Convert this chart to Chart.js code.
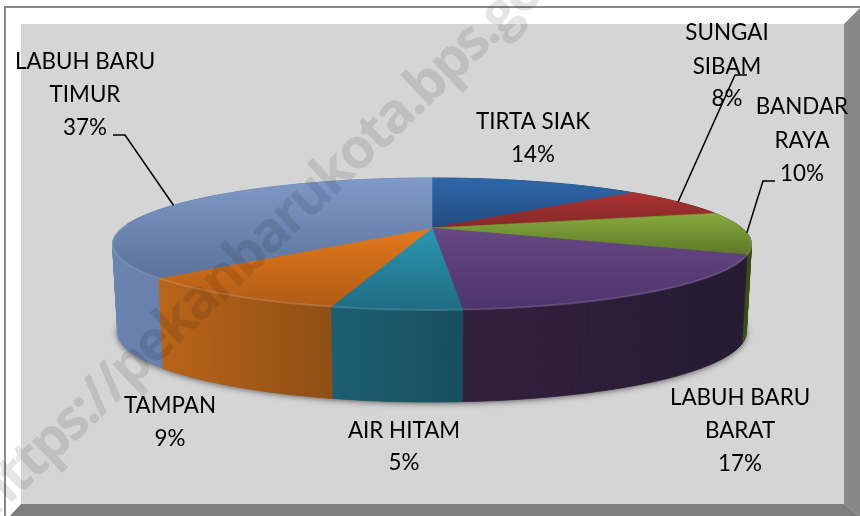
<!DOCTYPE html>
<html>
<head>
<meta charset="utf-8">
<style>
  html, body { margin: 0; padding: 0; background: #fff; }
  canvas { display: block; }
</style>
<script src="https://cdn.jsdelivr.net/npm/chart.js@4"></script>
</head>
<body>
<canvas id="pie-chart" width="860" height="516"></canvas>
<script>
// Data (slice sizes estimated, labels show them rounded)
const categories = ['TIRTA SIAK', 'SUNGAI SIBAM', 'BANDAR RAYA', 'LABUH BARU BARAT', 'AIR HITAM', 'TAMPAN', 'LABUH BARU TIMUR'];
const percentages = [13.5, 7.5, 10.4, 17.4, 5.2, 9.2, 36.8];

// top face gradient (back, front), side gradient (left, right)
const topColors = [
  ['#2f67aa', '#234c80'], ['#ab3332', '#842827'], ['#87ab3d', '#5d7829'], ['#674785', '#4e346d'],
  ['#2c97b2', '#1e6c82'], ['#e2781c', '#b05c16'], ['#7f9ac8', '#5c729a']
];
const sideColors = [
  ['#1d3c62', '#1d3c62'], ['#662020', '#662020'], ['#45591e', '#3a4a18'], ['#33203f', '#251a32'],
  ['#1c5f71', '#174f5e'], ['#ba651a', '#8f4f14'], ['#6a84b0', '#5b7299']
];

// label layout: line centres, and optional leader elbow
const labelLayout = [
  { x: 533, lines: [['TIRTA SIAK', 122], ['14%', 155]] },
  { x: 727, lines: [['SUNGAI', 33], ['SIBAM', 67], ['8%', 99]], leader: [[747, 75], [735, 75]] },
  { x: 802, lines: [['BANDAR', 107], ['RAYA', 141], ['10%', 174]], leader: [[775, 181], [763, 181]] },
  { x: 740, lines: [['LABUH BARU', 398], ['BARAT', 431], ['17%', 464]] },
  { x: 404, lines: [['AIR HITAM', 431], ['5%', 463]] },
  { x: 170, lines: [['TAMPAN', 406], ['9%', 439]] },
  { x: 85, lines: [['LABUH BARU', 62], ['TIMUR', 95], ['37%', 128]], leader: [[113, 135], [125, 135]] }
];

// perspective of the pie disc
const persp = 0.242;
const topDisc = { cx: 432, cy: 228, a: 310, b: 62.1 };
const baseDisc = { cx: 432, cy: 315, a: 305, b: 66 };

function project(disc, theta) {
  const u = Math.sin(theta), v = -Math.cos(theta);
  const w = 1 - persp * v;
  return [disc.cx + disc.a * u / w, disc.cy + disc.b * v / w];
}

function arcPoints(disc, from, to) {
  const pts = [];
  const n = Math.max(2, Math.ceil((to - from) / 0.02));
  for (let i = 0; i <= n; i++) pts.push(project(disc, from + (to - from) * i / n));
  return pts;
}

function tracePath(ctx, pts) {
  ctx.beginPath();
  pts.forEach((p, i) => i ? ctx.lineTo(p[0], p[1]) : ctx.moveTo(p[0], p[1]));
  ctx.closePath();
}

function sliceAngles(chart) {
  // chart.js starts at -PI/2 for rotation 0, shift so 0 is 12 o'clock
  return chart.getDatasetMeta(0).data.map(el => [el.startAngle + Math.PI / 2, el.endAngle + Math.PI / 2]);
}

const framePlugin = {
  id: 'frame',
  beforeDraw(chart) {
    const ctx = chart.ctx;
    ctx.save();
    ctx.fillStyle = '#fff';
    ctx.fillRect(0, 0, 860, 516);
    ctx.fillStyle = '#898989';
    ctx.fillRect(4, 6, 856, 2);
    ctx.fillRect(4, 6, 2, 510);
    ctx.fillStyle = '#d5d5d5';
    ctx.fillRect(21, 24, 823, 480);
    tracePath(ctx, [[860, 8], [844, 24], [844, 504], [860, 516]]);
    ctx.fillStyle = '#888888';
    ctx.fill();
    tracePath(ctx, [[10, 516], [21, 504], [844, 504], [860, 516]]);
    ctx.fillStyle = '#7e7e7e';
    ctx.fill();
    ctx.restore();
  }
};

const pie3dPlugin = {
  id: 'pie3d',
  // the flat arcs are replaced by the projected disc
  beforeDatasetsDraw(chart) {
    const ctx = chart.ctx;
    const angles = sliceAngles(chart);
    ctx.save();

    // soft shadow under the base
    ctx.save();
    ctx.shadowColor = 'rgba(40,40,40,0.75)';
    ctx.shadowBlur = 6;
    ctx.shadowOffsetY = 1;
    tracePath(ctx, arcPoints(baseDisc, 0, Math.PI * 2));
    ctx.fillStyle = '#555';
    ctx.fill();
    ctx.restore();

    // side wall in thin strips, painted back to front
    const strips = [];
    angles.forEach(([from, to], i) => {
      const pts = arcPoints(topDisc, from, to);
      const low = arcPoints(baseDisc, from, to);
      const xs = pts.map(p => p[0]);
      const grad = ctx.createLinearGradient(Math.min(...xs), 0, Math.max(...xs), 0);
      grad.addColorStop(0, sideColors[i][0]);
      grad.addColorStop(1, sideColors[i][1]);
      for (let k = 0; k < pts.length - 1; k++) {
        strips.push({ quad: [pts[k], pts[k + 1], low[k + 1], low[k]], y: pts[k][1], grad });
      }
    });
    strips.sort((p, q) => p.y - q.y);
    strips.forEach(s => {
      tracePath(ctx, s.quad);
      ctx.fillStyle = s.grad;
      ctx.strokeStyle = s.grad;
      ctx.lineWidth = 0.7;
      ctx.fill();
      ctx.stroke();
    });

    // top faces
    angles.forEach(([from, to], i) => {
      const pts = [[topDisc.cx, topDisc.cy]].concat(arcPoints(topDisc, from, to));
      const ys = pts.map(p => p[1]);
      const grad = ctx.createLinearGradient(0, Math.min(...ys), 0, Math.max(...ys));
      grad.addColorStop(0, topColors[i][0]);
      grad.addColorStop(1, topColors[i][1]);
      tracePath(ctx, pts);
      ctx.fillStyle = grad;
      ctx.fill();
      ctx.strokeStyle = grad;
      ctx.lineWidth = 0.6;
      ctx.stroke();
    });

    // light rim along the front edge of the top face
    ctx.beginPath();
    arcPoints(topDisc, Math.PI * 0.55, Math.PI * 1.52).forEach((p, i) => i ? ctx.lineTo(p[0], p[1]) : ctx.moveTo(p[0], p[1]));
    ctx.strokeStyle = 'rgba(255,255,255,0.13)';
    ctx.lineWidth = 2;
    ctx.stroke();

    ctx.restore();
    return false;
  },
  afterDraw(chart) {
    const ctx = chart.ctx;
    const angles = sliceAngles(chart);
    ctx.save();

    // watermark
    ctx.save();
    ctx.translate(-6, 519);
    ctx.rotate(-43.5 * Math.PI / 180);
    ctx.font = 'bold 56px "Open Sans"';
    ctx.letterSpacing = '-2.9px';
    ctx.fillStyle = 'rgba(0,0,0,0.1)';
    ctx.textAlign = 'left';
    ctx.textBaseline = 'alphabetic';
    ctx.fillText('https://pekanbarukota.bps.go.id', 0, 0);
    ctx.restore();

    // leaders
    ctx.strokeStyle = '#000';
    ctx.lineWidth = 1.5;
    labelLayout.forEach((lab, i) => {
      if (!lab.leader) return;
      const end = project(topDisc, (angles[i][0] + angles[i][1]) / 2);
      ctx.beginPath();
      ctx.moveTo(lab.leader[0][0], lab.leader[0][1]);
      ctx.lineTo(lab.leader[1][0], lab.leader[1][1]);
      ctx.lineTo(end[0], end[1]);
      ctx.stroke();
    });

    // labels
    ctx.font = '22.4px Lato';
    ctx.fillStyle = '#000';
    ctx.textAlign = 'center';
    ctx.textBaseline = 'middle';
    labelLayout.forEach(lab => {
      lab.lines.forEach(([text, y]) => ctx.fillText(text, lab.x, y));
    });
    ctx.restore();
  }
};

const pieChart = new Chart(document.getElementById('pie-chart').getContext('2d'), {
  type: 'pie',
  data: {
    labels: categories,
    datasets: [{ data: percentages, backgroundColor: topColors.map(c => c[0]) }]
  },
  options: {
    responsive: false,
    animation: false,
    plugins: { legend: { display: false }, tooltip: { enabled: false } }
  },
  plugins: [framePlugin, pie3dPlugin]
});
</script>
</body>
</html>
